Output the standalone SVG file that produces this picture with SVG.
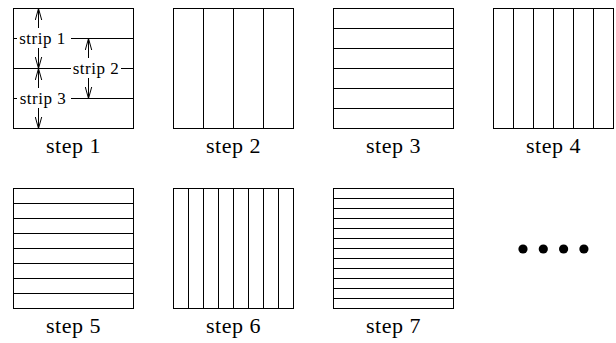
<svg xmlns="http://www.w3.org/2000/svg" width="616" height="343" viewBox="0 0 616 343">
<style>
  .box { fill: none; stroke: #000; stroke-width: 1; }
  .ln { stroke: #000; stroke-width: 1; fill: none; }
  .lbl { font-family: "Liberation Serif", "Times New Roman", serif; font-size: 22px; letter-spacing: 0.5px; text-anchor: middle; fill: #000; }
  .sl { font-family: "Liberation Serif", "Times New Roman", serif; font-size: 17px; letter-spacing: 0.5px; text-anchor: middle; fill: #000; }
  .bg { fill: #fff; stroke: none; }
  .dot { fill: #000; }
</style>
<defs>
  <marker id="vh" viewBox="0 0 13 8" markerWidth="13" markerHeight="8" markerUnits="userSpaceOnUse" refX="12.5" refY="4" orient="auto-start-reverse">
    <path d="M1,0.8 L12.5,4 L1,7.2" fill="none" stroke="#000" stroke-width="1"/>
  </marker>
</defs>
<rect width="616" height="343" fill="#fff"/>

<g id="step1">
  <rect class="box" x="13.5" y="8.5" width="120" height="120"/>
  <path class="ln" d="M13.5,38.5H133.5M13.5,68.5H133.5M13.5,98.5H133.5"/>
  <g id="connectors">
    <line class="ln" x1="38.5" y1="8.5" x2="38.5" y2="68.5" marker-start="url(#vh)" marker-end="url(#vh)"/>
    <line class="ln" x1="38.5" y1="68.5" x2="38.5" y2="128.5" marker-start="url(#vh)" marker-end="url(#vh)"/>
    <line class="ln" x1="88.5" y1="38.5" x2="88.5" y2="98.5" marker-start="url(#vh)" marker-end="url(#vh)"/>
  </g>
  <rect class="bg" x="17" y="28" width="54" height="20"/>
  <text class="sl" x="42.5" y="44">strip 1</text>
  <rect class="bg" x="17" y="88" width="54" height="20"/>
  <text class="sl" x="43" y="104">strip 3</text>
  <rect class="bg" x="71" y="58" width="50" height="20"/>
  <text class="sl" x="96" y="74">strip 2</text>
  <text class="lbl" x="73.5" y="152.5">step 1</text>
</g>

<g id="step2">
  <rect class="box" x="173.5" y="8.5" width="120" height="120"/>
  <path class="ln" d="M203.5,8.5V128.5M233.5,8.5V128.5M263.5,8.5V128.5"/>
  <text class="lbl" x="233.5" y="152.5">step 2</text>
</g>

<g id="step3">
  <rect class="box" x="333.5" y="8.5" width="120" height="120"/>
  <path class="ln" d="M333.5,28.5H453.5M333.5,48.5H453.5M333.5,68.5H453.5M333.5,88.5H453.5M333.5,108.5H453.5"/>
  <text class="lbl" x="393.5" y="152.5">step 3</text>
</g>

<g id="step4">
  <rect class="box" x="493.5" y="8.5" width="120" height="120"/>
  <path class="ln" d="M513.5,8.5V128.5M533.5,8.5V128.5M553.5,8.5V128.5M573.5,8.5V128.5M593.5,8.5V128.5"/>
  <text class="lbl" x="553.5" y="152.5">step 4</text>
</g>

<g id="step5">
  <rect class="box" x="13.5" y="188.5" width="120" height="120"/>
  <path class="ln" d="M13.5,203.5H133.5M13.5,218.5H133.5M13.5,233.5H133.5M13.5,248.5H133.5M13.5,263.5H133.5M13.5,278.5H133.5M13.5,293.5H133.5"/>
  <text class="lbl" x="73.5" y="332.5">step 5</text>
</g>

<g id="step6">
  <rect class="box" x="173.5" y="188.5" width="120" height="120"/>
  <path class="ln" d="M188.5,188.5V308.5M203.5,188.5V308.5M218.5,188.5V308.5M233.5,188.5V308.5M248.5,188.5V308.5M263.5,188.5V308.5M278.5,188.5V308.5"/>
  <text class="lbl" x="233.5" y="332.5">step 6</text>
</g>

<g id="step7">
  <rect class="box" x="333.5" y="188.5" width="120" height="120"/>
  <path class="ln" d="M333.5,198.5H453.5M333.5,208.5H453.5M333.5,218.5H453.5M333.5,228.5H453.5M333.5,238.5H453.5M333.5,248.5H453.5M333.5,258.5H453.5M333.5,268.5H453.5M333.5,278.5H453.5M333.5,288.5H453.5M333.5,298.5H453.5"/>
  <text class="lbl" x="393.5" y="332.5">step 7</text>
</g>

<g id="ellipsis">
  <circle class="dot" cx="523" cy="249" r="4.6"/>
  <circle class="dot" cx="543.3" cy="249" r="4.6"/>
  <circle class="dot" cx="563.6" cy="249" r="4.6"/>
  <circle class="dot" cx="583.9" cy="249" r="4.6"/>
</g>
</svg>
